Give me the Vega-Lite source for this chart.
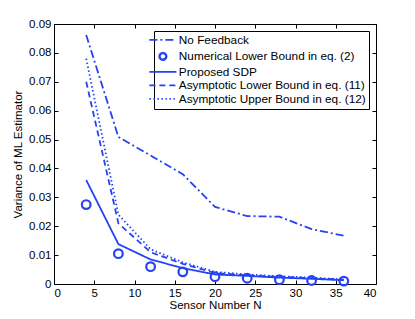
{
  "$schema": "https://vega.github.io/schema/vega-lite/v6.json",
  "width": 322,
  "height": 260,
  "autosize": {"type": "none"},
  "padding": {"left": 54, "top": 24, "right": 39, "bottom": 35},
  "config": {
    "view": {"stroke": "black", "strokeWidth": 1},
    "font": "Liberation Sans",
    "legend": {"strokeColor": "black", "strokeWidth": 1},
    "axis": {
      "grid": false,
      "domain": false,
      "tickColor": "black",
      "tickSize": -4,
      "labelFont": "Liberation Sans",
      "labelFontSize": 11.5,
      "labelColor": "black",
      "titleFont": "Liberation Sans",
      "titleFontSize": 11.5,
      "titleFontWeight": "normal",
      "titleColor": "black",
      "labelPadding": 7
    }
  },
  "data": {
    "values": [
      {"N": 4, "v": 0.0862, "s": "No Feedback"},
      {"N": 8, "v": 0.0509, "s": "No Feedback"},
      {"N": 12, "v": 0.0445, "s": "No Feedback"},
      {"N": 16, "v": 0.038, "s": "No Feedback"},
      {"N": 20, "v": 0.0267, "s": "No Feedback"},
      {"N": 24, "v": 0.0235, "s": "No Feedback"},
      {"N": 28, "v": 0.0233, "s": "No Feedback"},
      {"N": 32, "v": 0.019, "s": "No Feedback"},
      {"N": 36, "v": 0.0167, "s": "No Feedback"},
      {"N": 4, "v": 0.0275, "s": "Numerical Lower Bound in eq. (2)"},
      {"N": 8, "v": 0.0105, "s": "Numerical Lower Bound in eq. (2)"},
      {"N": 12, "v": 0.006, "s": "Numerical Lower Bound in eq. (2)"},
      {"N": 16, "v": 0.0042, "s": "Numerical Lower Bound in eq. (2)"},
      {"N": 20, "v": 0.0025, "s": "Numerical Lower Bound in eq. (2)"},
      {"N": 24, "v": 0.002, "s": "Numerical Lower Bound in eq. (2)"},
      {"N": 28, "v": 0.0015, "s": "Numerical Lower Bound in eq. (2)"},
      {"N": 32, "v": 0.0012, "s": "Numerical Lower Bound in eq. (2)"},
      {"N": 36, "v": 0.001, "s": "Numerical Lower Bound in eq. (2)"},
      {"N": 4, "v": 0.036, "s": "Proposed SDP"},
      {"N": 8, "v": 0.0138, "s": "Proposed SDP"},
      {"N": 12, "v": 0.0085, "s": "Proposed SDP"},
      {"N": 16, "v": 0.0055, "s": "Proposed SDP"},
      {"N": 20, "v": 0.0033, "s": "Proposed SDP"},
      {"N": 24, "v": 0.0028, "s": "Proposed SDP"},
      {"N": 28, "v": 0.0022, "s": "Proposed SDP"},
      {"N": 32, "v": 0.0018, "s": "Proposed SDP"},
      {"N": 36, "v": 0.0013, "s": "Proposed SDP"},
      {"N": 4, "v": 0.070, "s": "Asymptotic Lower Bound in eq. (11)"},
      {"N": 8, "v": 0.021, "s": "Asymptotic Lower Bound in eq. (11)"},
      {"N": 12, "v": 0.011, "s": "Asymptotic Lower Bound in eq. (11)"},
      {"N": 16, "v": 0.007, "s": "Asymptotic Lower Bound in eq. (11)"},
      {"N": 20, "v": 0.0038, "s": "Asymptotic Lower Bound in eq. (11)"},
      {"N": 24, "v": 0.003, "s": "Asymptotic Lower Bound in eq. (11)"},
      {"N": 28, "v": 0.0025, "s": "Asymptotic Lower Bound in eq. (11)"},
      {"N": 32, "v": 0.002, "s": "Asymptotic Lower Bound in eq. (11)"},
      {"N": 36, "v": 0.0015, "s": "Asymptotic Lower Bound in eq. (11)"},
      {"N": 4, "v": 0.078, "s": "Asymptotic Upper Bound in eq. (12)"},
      {"N": 8, "v": 0.024, "s": "Asymptotic Upper Bound in eq. (12)"},
      {"N": 12, "v": 0.012, "s": "Asymptotic Upper Bound in eq. (12)"},
      {"N": 16, "v": 0.0075, "s": "Asymptotic Upper Bound in eq. (12)"},
      {"N": 20, "v": 0.0042, "s": "Asymptotic Upper Bound in eq. (12)"},
      {"N": 24, "v": 0.0033, "s": "Asymptotic Upper Bound in eq. (12)"},
      {"N": 28, "v": 0.0027, "s": "Asymptotic Upper Bound in eq. (12)"},
      {"N": 32, "v": 0.0022, "s": "Asymptotic Upper Bound in eq. (12)"},
      {"N": 36, "v": 0.0016, "s": "Asymptotic Upper Bound in eq. (12)"}
    ]
  },
  "resolve": {"axis": {"x": "independent", "y": "independent"}},
  "layer": [
    {
      "transform": [{"filter": "datum.s !== 'Numerical Lower Bound in eq. (2)'"}],
      "mark": {"type": "line", "color": "#2443f5", "strokeWidth": 1.8, "clip": true},
      "encoding": {
        "x": {"field": "N", "type": "quantitative", "scale": {"domain": [0, 40], "nice": false},
          "axis": {"values": [0,5,10,15,20,25,30,35,40], "title": "Sensor Number N", "titlePadding": 1}},
        "y": {"field": "v", "type": "quantitative", "scale": {"domain": [0, 0.09], "nice": false},
          "axis": {"values": [0,0.01,0.02,0.03,0.04,0.05,0.06,0.07,0.08,0.09], "format": ".2~f", "title": "Variance of ML Estimator", "titlePadding": 5}},
        "detail": {"field": "s"},
        "strokeDash": {
          "field": "s",
          "type": "nominal",
          "scale": {
            "domain": ["No Feedback", "Numerical Lower Bound in eq. (2)", "Proposed SDP", "Asymptotic Lower Bound in eq. (11)", "Asymptotic Upper Bound in eq. (12)"],
            "range": [[8, 3, 2, 3], [1, 0], [1, 0], [6, 4], [1.5, 2.5]]
          },
          "legend": {
            "title": null,
            "orient": "top-right",
            "offset": 7,
            "padding": 3,
            "strokeColor": "black",
            "fillColor": "white",
            "symbolType": "stroke",
            "symbolSize": 729,
            "symbolStrokeColor": "#2443f5",
            "symbolStrokeWidth": 1.8,
            "labelFont": "Liberation Sans",
            "labelFontSize": 11.8,
            "labelColor": "black",
            "labelLimit": 300,
            "rowPadding": 0.5,
            "labelOffset": 10,
            "encode": {
              "legend": {"update": {"stroke": {"value": "black"}, "strokeWidth": {"value": 1}}},
              "symbols": {
                "update": {
                  "shape": {"signal": "datum.value === 'Numerical Lower Bound in eq. (2)' ? 'circle' : 'stroke'"},
                  "size": {"signal": "datum.value === 'Numerical Lower Bound in eq. (2)' ? 45 : 729"},
                  "strokeWidth": {"signal": "datum.value === 'Numerical Lower Bound in eq. (2)' ? 2.4 : 1.8"}
                }
              }
            }
          }
        }
      }
    },
    {
      "transform": [{"filter": "datum.s === 'Numerical Lower Bound in eq. (2)'"}],
      "mark": {"type": "point", "shape": "circle", "filled": false, "color": "#2443f5", "strokeWidth": 2.2, "size": 75, "opacity": 1},
      "encoding": {
        "x": {"field": "N", "type": "quantitative", "scale": {"domain": [0, 40], "nice": false},
          "axis": {"orient": "top", "values": [0,5,10,15,20,25,30,35,40], "labels": false, "title": null}},
        "y": {"field": "v", "type": "quantitative", "scale": {"domain": [0, 0.09], "nice": false},
          "axis": {"orient": "right", "values": [0,0.01,0.02,0.03,0.04,0.05,0.06,0.07,0.08,0.09], "labels": false, "title": null}}
      }
    }
  ]
}
